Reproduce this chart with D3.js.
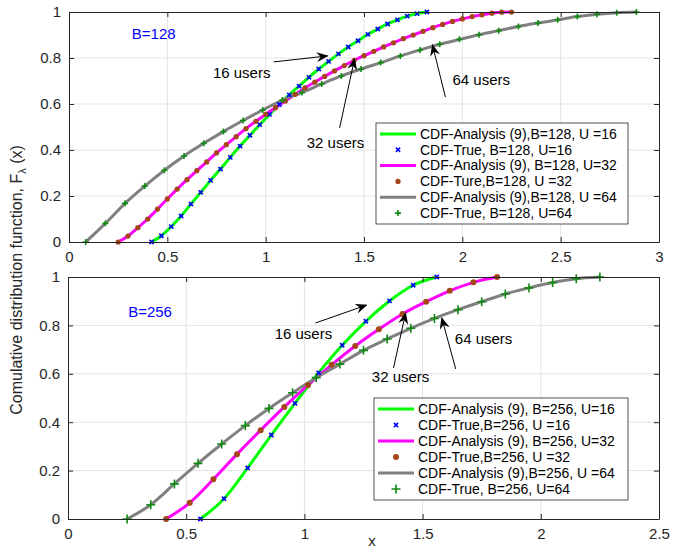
<!DOCTYPE html>
<html>
<head>
<meta charset="utf-8">
<script src="https://cdn.jsdelivr.net/npm/d3@7"></script>
<style>
  body { margin: 0; background: #fff; }
  text { font-family: "Liberation Sans", Arial, sans-serif; fill: #262626; }
</style>
</head>
<body>
<svg id="chart" width="696" height="548"></svg>
<script>
// ---- B = 128 (top panel) ----
const xTicks128 = [0, 0.5, 1, 1.5, 2, 2.5, 3];
const cdf128u16 = [[0.42,0],[0.47,0.027],[0.52,0.067],[0.57,0.113],[0.62,0.165],[0.67,0.216],[0.72,0.268],[0.77,0.317],[0.82,0.368],[0.87,0.417],[0.92,0.464],[0.97,0.51],[1.02,0.555],[1.07,0.598],[1.12,0.64],[1.17,0.678],[1.22,0.716],[1.27,0.752],[1.32,0.785],[1.37,0.818],[1.42,0.848],[1.47,0.875],[1.52,0.903],[1.57,0.926],[1.62,0.948],[1.67,0.966],[1.72,0.982],[1.77,0.993],[1.82,1]];
const cdf128u32 = [[0.25,0],[0.3,0.026],[0.35,0.062],[0.4,0.1],[0.45,0.143],[0.5,0.187],[0.55,0.23],[0.6,0.271],[0.65,0.31],[0.7,0.348],[0.75,0.387],[0.8,0.423],[0.85,0.458],[0.9,0.493],[0.95,0.525],[1,0.555],[1.05,0.584],[1.1,0.613],[1.15,0.642],[1.2,0.67],[1.25,0.695],[1.3,0.72],[1.35,0.744],[1.4,0.767],[1.45,0.79],[1.5,0.81],[1.55,0.829],[1.6,0.848],[1.65,0.866],[1.7,0.884],[1.75,0.9],[1.8,0.916],[1.85,0.932],[1.9,0.946],[1.95,0.959],[2,0.97],[2.05,0.98],[2.1,0.988],[2.15,0.995],[2.2,0.999],[2.25,1]];
const cdf128u64 = [[0.085,0],[0.185,0.081],[0.285,0.168],[0.385,0.243],[0.485,0.312],[0.585,0.374],[0.685,0.429],[0.785,0.48],[0.885,0.528],[0.985,0.574],[1.085,0.617],[1.185,0.65],[1.285,0.687],[1.385,0.722],[1.485,0.752],[1.585,0.78],[1.685,0.809],[1.785,0.835],[1.885,0.86],[1.985,0.881],[2.085,0.901],[2.185,0.919],[2.285,0.937],[2.385,0.952],[2.485,0.966],[2.585,0.98],[2.685,0.99],[2.785,0.997],[2.885,1]];
const legend128 = ["CDF-Analysis (9),B=128, U =16", "CDF-True, B=128, U=16", "CDF-Analysis (9), B=128, U=32", "CDF-Ture,B=128, U =32", "CDF-Analysis (9),B=128, U =64", "CDF-True, B=128, U=64"];
const notes128 = [
  { text: "16 users", tx: 0.878, ty: 0.735, from: [1.041, 0.783], to: [1.315, 0.809] },
  { text: "32 users", tx: 1.355, ty: 0.43, from: [1.376, 0.496], to: [1.452, 0.796] },
  { text: "64 users", tx: 2.096, ty: 0.704, from: [1.914, 0.63], to: [1.848, 0.857] }
];

// ---- B = 256 (bottom panel) ----
const xTicks256 = [0, 0.5, 1, 1.5, 2, 2.5];
const cdf256u16 = [[0.56,0],[0.66,0.084],[0.76,0.211],[0.86,0.347],[0.96,0.478],[1.06,0.604],[1.16,0.718],[1.26,0.817],[1.36,0.901],[1.46,0.966],[1.56,1]];
const cdf256u32 = [[0.415,0],[0.515,0.067],[0.615,0.164],[0.715,0.268],[0.815,0.367],[0.915,0.463],[1.015,0.553],[1.115,0.637],[1.215,0.715],[1.315,0.784],[1.415,0.847],[1.515,0.898],[1.615,0.943],[1.715,0.978],[1.815,1]];
const cdf256u64 = [[0.25,0],[0.35,0.059],[0.45,0.145],[0.55,0.23],[0.65,0.31],[0.75,0.386],[0.85,0.457],[0.95,0.522],[1.05,0.584],[1.15,0.64],[1.25,0.697],[1.35,0.744],[1.45,0.788],[1.55,0.829],[1.65,0.865],[1.75,0.898],[1.85,0.93],[1.95,0.955],[2.05,0.977],[2.15,0.993],[2.25,1]];
const legend256 = ["CDF-Analysis (9), B=256, U=16", "CDF-True,B=256, U =16", "CDF-Analysis (9), B=256, U=32", "CDF-True,B=256, U =32", "CDF-Analysis (9),B=256, U =64", "CDF-True, B=256, U=64"];
const notes256 = [
  { text: "16 users", tx: 0.996, ty: 0.764, from: [1.047, 0.81], to: [1.263, 0.884] },
  { text: "32 users", tx: 1.407, ty: 0.587, from: [1.377, 0.624], to: [1.428, 0.851] },
  { text: "64 users", tx: 1.758, ty: 0.744, from: [1.64, 0.62], to: [1.581, 0.831] }
];

const yTicks = [0, 0.2, 0.4, 0.6, 0.8, 1];

const svg = d3.select("#chart");
const defs = svg.append("defs");
defs.append("marker")
  .attr("id", "head")
  .attr("viewBox", "0 0 12 10")
  .attr("refX", 11).attr("refY", 5)
  .attr("markerWidth", 12).attr("markerHeight", 10)
  .attr("markerUnits", "userSpaceOnUse")
  .attr("orient", "auto")
  .append("path")
  .attr("d", "M0,0 L12,5 L0,10 L4,5 Z")
  .attr("fill", "#000");

const styles = [
  { line: "#00ff00", mark: "x", color: "#0000ff" },
  { line: "#ff00ff", mark: "dot", color: "#a5461a" },
  { line: "#808080", mark: "plus", color: "#108a10" }
];

function drawMarker(sel, kind, color, size) {
  if (kind === "dot") {
    sel.append("circle").attr("r", size * 0.75).attr("fill", color);
  } else if (kind === "x") {
    const s = size * 0.6;
    sel.append("path").attr("d", `M${-s},${-s}L${s},${s}M${-s},${s}L${s},${-s}`)
      .attr("stroke", color).attr("stroke-width", 1.6);
  } else {
    sel.append("path").attr("d", `M${-size},0L${size},0M0,${-size}L0,${size}`)
      .attr("stroke", color).attr("stroke-width", 1.6);
  }
}

function panel(cfg) {
  const x = d3.scaleLinear().domain(cfg.xDomain).range([cfg.left, cfg.right]);
  const y = d3.scaleLinear().domain([0, 1]).range([cfg.bottom, cfg.top]);
  const g = svg.append("g");

  // grid
  g.append("g").selectAll("line").data(cfg.xTicks.slice(1, -1)).join("line")
    .attr("x1", d => x(d)).attr("x2", d => x(d))
    .attr("y1", cfg.top).attr("y2", cfg.bottom)
    .attr("stroke", "#e3e3e3").attr("stroke-width", 1);
  g.append("g").selectAll("line").data(yTicks.slice(1, -1)).join("line")
    .attr("x1", cfg.left).attr("x2", cfg.right)
    .attr("y1", d => y(d)).attr("y2", d => y(d))
    .attr("stroke", "#e3e3e3").attr("stroke-width", 1);

  // curves + markers
  const line = d3.line().x(d => x(d[0])).y(d => y(d[1])).curve(d3.curveMonotoneX);
  cfg.series.forEach((s, i) => {
    g.append("path").datum(s).attr("d", line)
      .attr("fill", "none").attr("stroke", styles[i].line).attr("stroke-width", 3);
  });
  cfg.series.forEach((s, i) => {
    g.append("g").selectAll("g").data(s).join("g")
      .attr("transform", d => `translate(${x(d[0])},${y(d[1])})`)
      .each(function () { drawMarker(d3.select(this), styles[i].mark, styles[i].color, cfg.markSize[i]); });
  });

  // axes
  const ax = (gen, tr, labels) => {
    const a = g.append("g").attr("transform", tr).call(gen);
    a.select(".domain").attr("stroke", "#262626");
    a.selectAll(".tick line").attr("stroke", "#262626");
    a.selectAll("text").style("font-size", "15px").attr("fill", "#262626");
    if (!labels) a.selectAll("text").remove();
    return a;
  };
  const fmt = d3.format("~g");
  ax(d3.axisBottom(x).tickValues(cfg.xTicks).tickFormat(fmt).tickSizeInner(-5).tickSizeOuter(0).tickPadding(9),
    `translate(0,${cfg.bottom})`, true);
  ax(d3.axisTop(x).tickValues(cfg.xTicks).tickSizeInner(-5).tickSizeOuter(0),
    `translate(0,${cfg.top})`, false);
  ax(d3.axisLeft(y).tickValues(yTicks).tickFormat(fmt).tickSizeInner(-5).tickSizeOuter(0).tickPadding(8),
    `translate(${cfg.left},0)`, true);
  ax(d3.axisRight(y).tickValues(yTicks).tickSizeInner(-5).tickSizeOuter(0),
    `translate(${cfg.right},0)`, false);

  // B label
  g.append("text").attr("x", x(cfg.bLabel[0])).attr("y", y(cfg.bLabel[1]))
    .attr("text-anchor", "middle").attr("dy", "0.35em")
    .style("font-size", "15px").style("fill", "#0000ff").text(cfg.bText);

  // annotations
  cfg.notes.forEach(n => {
    g.append("line")
      .attr("x1", x(n.from[0])).attr("y1", y(n.from[1]))
      .attr("x2", x(n.to[0])).attr("y2", y(n.to[1]))
      .attr("stroke", "#000").attr("stroke-width", 1)
      .attr("marker-end", "url(#head)");
    g.append("text").attr("x", x(n.tx)).attr("y", y(n.ty))
      .attr("text-anchor", "middle").attr("dy", "0.35em")
      .style("font-size", "15px").style("fill", "#000").text(n.text);
  });

  // legend
  const lg = g.append("g");
  lg.append("rect").attr("x", cfg.legend.x).attr("y", cfg.legend.y)
    .attr("width", cfg.legend.w).attr("height", cfg.legend.h)
    .attr("fill", "#fff").attr("stroke", "#262626").attr("stroke-width", 0.8);
  const rowH = (cfg.legend.h - 6) / 6;
  cfg.labels.forEach((t, k) => {
    const cy = cfg.legend.y + 3 + rowH * (k + 0.5);
    const st = styles[Math.floor(k / 2)];
    if (k % 2 === 0) {
      lg.append("line").attr("x1", cfg.legend.x + 4).attr("x2", cfg.legend.x + 40)
        .attr("y1", cy).attr("y2", cy).attr("stroke", st.line).attr("stroke-width", 3);
    } else {
      const m = lg.append("g").attr("transform", `translate(${cfg.legend.x + 22},${cy})`);
      drawMarker(m, st.mark, st.color, cfg.markSize[Math.floor(k / 2)]);
    }
    lg.append("text").attr("x", cfg.legend.x + 44).attr("y", cy).attr("dy", "0.35em")
      .style("font-size", "14px").style("fill", "#000").text(t);
  });
}

panel({
  left: 69, right: 659, top: 12, bottom: 242,
  xDomain: [0, 3], xTicks: xTicks128,
  series: [cdf128u16, cdf128u32, cdf128u64],
  markSize: [3.5, 3.5, 3],
  labels: legend128, notes: notes128,
  bText: "B=128", bLabel: [0.431, 0.904],
  legend: { x: 376, y: 123, w: 252, h: 101 }
});

panel({
  left: 68, right: 659, top: 277, bottom: 519,
  xDomain: [0, 2.5], xTicks: xTicks256,
  series: [cdf256u16, cdf256u32, cdf256u64],
  markSize: [3.5, 4, 4.5],
  labels: legend256, notes: notes256,
  bText: "B=256", bLabel: [0.347, 0.855],
  legend: { x: 374, y: 398, w: 254, h: 102 }
});

// axis titles
const yl = svg.append("text")
  .attr("transform", "translate(22,280) rotate(-90)")
  .attr("text-anchor", "middle")
  .style("font-size", "16px");
yl.append("tspan").text("Comulative distribution function, F");
yl.append("tspan").attr("dy", 4).style("font-size", "11px").text("λ");
yl.append("tspan").attr("dy", -4).text(" (x)");

svg.append("text").attr("x", 372).attr("y", 546)
  .attr("text-anchor", "middle").style("font-size", "15px").text("x");
</script>
</body>
</html>
